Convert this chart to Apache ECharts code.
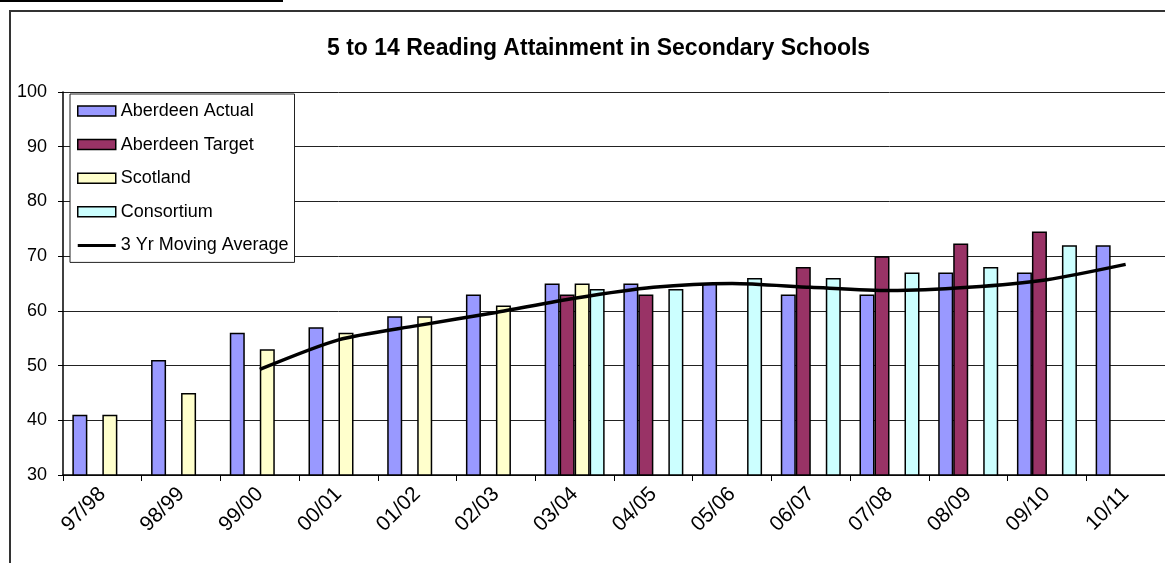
<!DOCTYPE html>
<html>
<head>
<meta charset="utf-8">
<title>5 to 14 Reading Attainment in Secondary Schools</title>
<script src="https://cdn.jsdelivr.net/npm/echarts@6/dist/echarts.min.js"></script>
<style>
  html, body { margin: 0; padding: 0; background: #fff; }
  #chart { width: 1165px; height: 563px; }
</style>
</head>
<body>
<div id="chart"></div>
<script>
// School years on the category axis
const years = ['97/98', '98/99', '99/00', '00/01', '01/02', '02/03', '03/04',
               '04/05', '05/06', '06/07', '07/08', '08/09', '09/10', '10/11'];

// Percentage attaining the reading level (null = no figure that year)
const aberdeenActual = [41, 51, 56, 57, 59, 63, 65, 65, 65, 63, 63, 67, 67, 72];
const aberdeenTarget = [null, null, null, null, null, null, 63, 63, null, 68, 70, 72.3, 74.5, null];
const scotland       = [41, 45, 53, 56, 59, 61, 65, null, null, null, null, null, null, null];
const consortium     = [null, null, null, null, null, null, 64, 64, 66, 66, 67, 68, 72, null];
const movingAverage  = [null, null, 49.3, 54.7, 57.3, 59.7, 62.3, 64.3, 65, 64.3, 63.7, 64.3, 65.7, 68.5];

// Value axis range and step
const yMin = 30, yMax = 100, yStep = 10;

const FONT = '"Liberation Sans", Arial, sans-serif';

const barStyle = (color) => ({ color: color, borderColor: '#000', borderWidth: 1.5 });

// Legend swatch for the line: a thin bar across the middle of the 38x10 icon box
const LINE_ICON = 'path://M0,0 L0,0 M0,3.5 L38,3.5 L38,6.5 L0,6.5 Z M38,10 L38,10';

const chart = echarts.init(document.getElementById('chart'), null, { renderer: 'canvas' });

chart.setOption({
  backgroundColor: '#fff',
  animation: false,
  textStyle: { fontFamily: FONT, color: '#000' },
  title: {
    text: '5 to 14 Reading Attainment in Secondary Schools',
    left: 322,
    top: 32,
    textStyle: { fontFamily: FONT, fontSize: 23, fontWeight: 'bold', color: '#000' }
  },
  graphic: [
    // underline of the heading above the chart
    { type: 'line', shape: { x1: 0, y1: 1, x2: 283, y2: 1 }, style: { stroke: '#000', lineWidth: 2 }, silent: true },
    // chart frame
    { type: 'rect', shape: { x: 10, y: 11, width: 1200, height: 600 },
      style: { fill: 'none', stroke: '#333', lineWidth: 2 }, silent: true, z: -1 }
  ],
  legend: {
    orient: 'vertical',
    left: 70,
    top: 94,
    padding: [8, 6, 8, 7],
    itemWidth: 38,
    itemHeight: 10,
    itemGap: 15.6,
    itemStyle: { borderColor: '#000', borderWidth: 1.5 },
    textStyle: { fontFamily: FONT, fontSize: 18, color: '#000', lineHeight: 18 },
    backgroundColor: '#fff',
    borderColor: '#222',
    borderWidth: 1,
    data: [
      { name: 'Aberdeen Actual', icon: 'rect' },
      { name: 'Aberdeen Target', icon: 'rect' },
      { name: 'Scotland', icon: 'rect' },
      { name: 'Consortium', icon: 'rect' },
      { name: '3 Yr Moving Average', icon: LINE_ICON, itemStyle: { color: '#000', borderWidth: 0 } }
    ]
  },
  grid: { left: 63, top: 92, width: 1106, height: 383, containLabel: false },
  xAxis: {
    type: 'category',
    data: years,
    boundaryGap: true,
    axisLine: { lineStyle: { color: '#000', width: 1.5 } },
    axisTick: { show: true, length: 6, inside: false, lineStyle: { color: '#000' } },
    axisLabel: { rotate: 45, margin: 16, fontFamily: FONT, fontSize: 21, color: '#000', interval: 0 },
    splitLine: { show: false }
  },
  yAxis: {
    type: 'value',
    min: yMin,
    max: yMax,
    interval: yStep,
    axisLine: { show: true, lineStyle: { color: '#000', width: 1.5 } },
    axisTick: { show: true, length: 5, lineStyle: { color: '#000' } },
    axisLabel: { margin: 16, fontFamily: FONT, fontSize: 18, color: '#000' },
    splitLine: { show: true, lineStyle: { color: '#222', width: 1 } }
  },
  series: [
    { name: 'Aberdeen Actual', type: 'bar', data: aberdeenActual, barWidth: 15, barGap: '0%', itemStyle: barStyle('#9999FF') },
    { name: 'Aberdeen Target', type: 'bar', data: aberdeenTarget, barWidth: 15, barGap: '0%', itemStyle: barStyle('#993366') },
    { name: 'Scotland', type: 'bar', data: scotland, barWidth: 15, barGap: '0%', itemStyle: barStyle('#FFFFCC') },
    { name: 'Consortium', type: 'bar', data: consortium, barWidth: 15, barGap: '0%', itemStyle: barStyle('#CCFFFF') },
    { name: '3 Yr Moving Average', type: 'line', data: movingAverage, symbol: 'none', smooth: 0.25,
      connectNulls: false, z: 5,
      lineStyle: { color: '#000', width: 3.5 }, itemStyle: { color: '#000' } }
  ]
});
</script>
</body>
</html>
